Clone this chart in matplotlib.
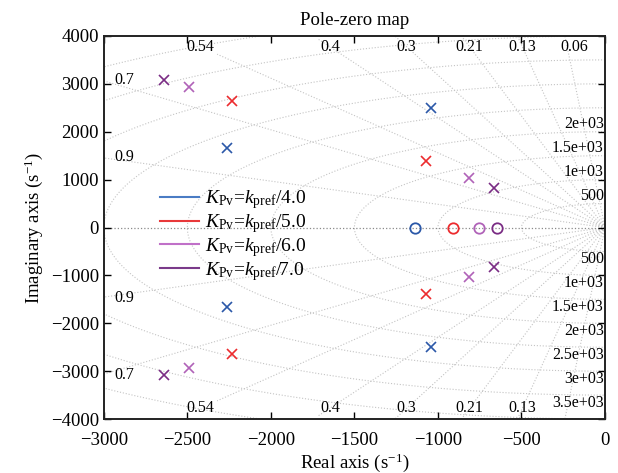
import numpy as np
import matplotlib
matplotlib.use("Agg")
from matplotlib import pyplot as plt

plt.rcParams['font.family'] = ['Liberation Serif', 'DejaVu Serif']
plt.rcParams['mathtext.fontset'] = 'custom'
plt.rcParams['mathtext.rm'] = 'Liberation Serif'
plt.rcParams['mathtext.it'] = 'Liberation Serif:italic'

# pole / zero locations
gain_div = ['4.0', '5.0', '6.0', '7.0']
pole_re_far = [-2265, -2235, -2489, -2641]
pole_im_far = [1665, 2640, 2927, 3088]
pole_re_near = [-1042, -1072, -816, -667]
pole_im_near = [2493, 1392, 1028, 831]
zero_re = [-1138, -908, -754, -649]

marker_colors = ['#2b58a8', '#ec2b2e', '#b062b8', '#7a2c84']
legend_colors = ['#4a7cc4', '#e8383a', '#c070c8', '#7a3a8a']

# grid values
zetas = [0.06, 0.13, 0.21, 0.3, 0.4, 0.54, 0.7, 0.9]
wns = [500, 1000, 1500, 2000, 2500, 3000, 3500, 4000, 4500]
wn_up_labels = [500, 1000, 1500, 2000]
wn_down_labels = [500, 1000, 1500, 2000, 2500, 3000, 3500]


def main():
    fig = plt.figure(figsize=(6.18, 4.73), dpi=100)
    ax = fig.add_axes([0.168, 0.114, 0.811, 0.81])

    gcol = '#c4c4c4'
    # natural frequency semicircles
    th = np.linspace(np.pi / 2, 3 * np.pi / 2, 400)
    for wn in wns:
        ax.plot(wn * np.cos(th), wn * np.sin(th), ls=':', lw=0.8, color=gcol, zorder=1)
    # damping rays
    rmax = 4300
    for z in zetas:
        ang = np.arccos(z)
        xe = -rmax * np.cos(ang)
        ye = rmax * np.sin(ang)
        ax.plot([0, xe], [0, ye], ls=':', lw=0.8, color=gcol, zorder=1)
        ax.plot([0, xe], [0, -ye], ls=':', lw=0.8, color=gcol, zorder=1)
    ax.plot([-3000, 0], [0, 0], ls=':', lw=0.9, color='#8a8a8a', zorder=1)

    # damping labels
    for z in zetas:
        t = np.tan(np.arccos(z))
        if z >= 0.7:
            xl = -2880
            yl = -xl * t * 1.05
        else:
            yl = 3774
            xl = -yl / t
            if z == 0.06:
                xl += 40
        ax.text(xl, yl, '%g' % z, fontsize=11.5, ha='center', va='center')
        if z != 0.06:
            ax.text(xl, -yl, '%g' % z, fontsize=11.5, ha='center', va='center')

    # natural frequency labels
    for wn in wn_up_labels:
        ax.text(-8, wn, '%.3g' % wn, fontsize=11.5, ha='right', va='bottom')
    for wn in wn_down_labels:
        ax.text(-8, -wn, '%.3g' % wn, fontsize=11.5, ha='right', va='top')

    # poles and zeros
    for i in range(len(gain_div)):
        c = marker_colors[i]
        px = [pole_re_far[i], pole_re_far[i], pole_re_near[i], pole_re_near[i]]
        py = [pole_im_far[i], -pole_im_far[i], pole_im_near[i], -pole_im_near[i]]
        ax.plot(px, py, 'x', ms=7, mew=1.2, color=c, zorder=3)
        ax.plot([zero_re[i]], [0], 'o', ms=7.5, mew=1.3, mfc='none', color=c, zorder=3)
        ax.plot([], [], '-', lw=1.5, color=legend_colors[i],
                label=r'$K_{\rm Pv}$=$k_{\rm pref}$/' + gain_div[i])

    ax.legend(loc='upper left', bbox_to_anchor=(0.077, 0.648), frameon=False,
              fontsize=14, handlelength=2.0, labelspacing=0.05, handletextpad=0.3)

    ax.set_xlim(-3000, 0)
    ax.set_ylim(-4000, 4000)
    ax.set_xticks([-3000, -2500, -2000, -1500, -1000, -500, 0])
    ax.set_yticks([-4000, -3000, -2000, -1000, 0, 1000, 2000, 3000, 4000])
    ax.tick_params(direction='in', top=True, right=True, labelsize=13.5, length=5, width=1)
    ax.tick_params(axis='x', pad=9)
    for s in ax.spines.values():
        s.set_linewidth(1.4)
        s.set_color('#222222')

    ax.set_title('Pole-zero map', fontsize=13.5, pad=8)
    ax.set_xlabel(r'Real axis (s$^{-1}$)', fontsize=13.5, labelpad=2)
    ax.set_ylabel(r'Imaginary axis (s$^{-1}$)', fontsize=13.5, labelpad=4)

    fig.savefig('out.png', dpi=100)


if __name__ == '__main__':
    main()
